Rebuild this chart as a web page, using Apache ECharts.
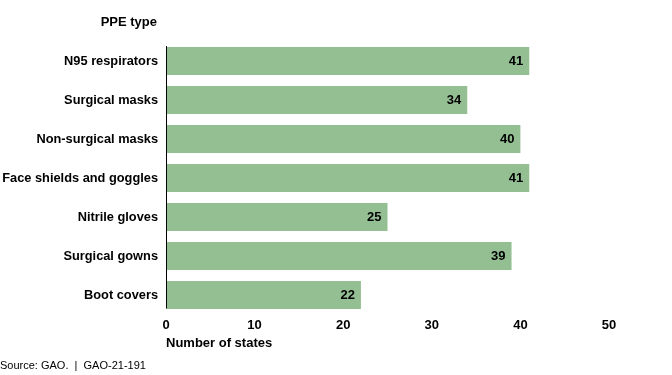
<!DOCTYPE html>
<html><head><meta charset="utf-8">
<script src="https://cdn.jsdelivr.net/npm/echarts@6/dist/echarts.min.js"></script>
<style>html,body{margin:0;padding:0;background:#fff}#c{width:672px;height:375px}</style>
</head><body><div id="c"></div>
<script>
const categories = ["N95 respirators","Surgical masks","Non-surgical masks","Face shields and goggles","Nitrile gloves","Surgical gowns","Boot covers"];
const values = [41,34,40,41,25,39,22];
const xTicks = [0,10,20,30,40,50];

const font = "Arial, 'Liberation Sans', sans-serif";
const chart = echarts.init(document.getElementById('c'), null, {renderer:'canvas'});
chart.setOption({
  animation:false,
  grid:[
    {left:166, right:63, top:41.5, bottom:60.5, containLabel:false, outerBoundsMode:'none'},
    {left:166, right:63, top:46.5, bottom:67, containLabel:false, outerBoundsMode:'none'}
  ],
  xAxis:[
    {type:'value', gridIndex:0, min:xTicks[0], max:xTicks[xTicks.length-1], interval:10,
     axisLine:{show:false}, axisTick:{show:false}, splitLine:{show:false},
     axisLabel:{fontFamily:font, fontSize:13, fontWeight:'bold', color:'#000', margin:4}},
    {type:'value', gridIndex:1, show:false, min:0, max:50}
  ],
  yAxis:[
    {type:'category', gridIndex:0, data:categories, inverse:true,
     axisLine:{show:false}, axisTick:{show:false},
     axisLabel:{fontFamily:font, fontSize:12.8, fontWeight:'bold', color:'#000', margin:8}},
    {type:'category', gridIndex:1, data:categories, inverse:true, z:5,
     axisLine:{show:true, lineStyle:{color:'#000', width:1}}, axisTick:{show:false}, axisLabel:{show:false}}
  ],
  series:[{
    type:'bar', xAxisIndex:0, yAxisIndex:0, data:values, barCategoryGap:'28%',
    itemStyle:{color:'#94bf93'},
    label:{show:true, position:'insideRight', offset:[-1,0], fontFamily:font, fontSize:13, fontWeight:'bold', color:'#000'}
  }],
  graphic:[
    {type:'text', right:672-157, top:16, style:{text:'PPE type', font:'bold 13px '+font, fill:'#000', textAlign:'right'}},
    {type:'text', left:166, top:337, style:{text:'Number of states', font:'bold 13px '+font, fill:'#000'}},
    {type:'text', left:0, top:360, style:{text:'Source: GAO.  |  GAO-21-191', font:'11px '+font, fill:'#000'}}
  ]
});
</script></body></html>
